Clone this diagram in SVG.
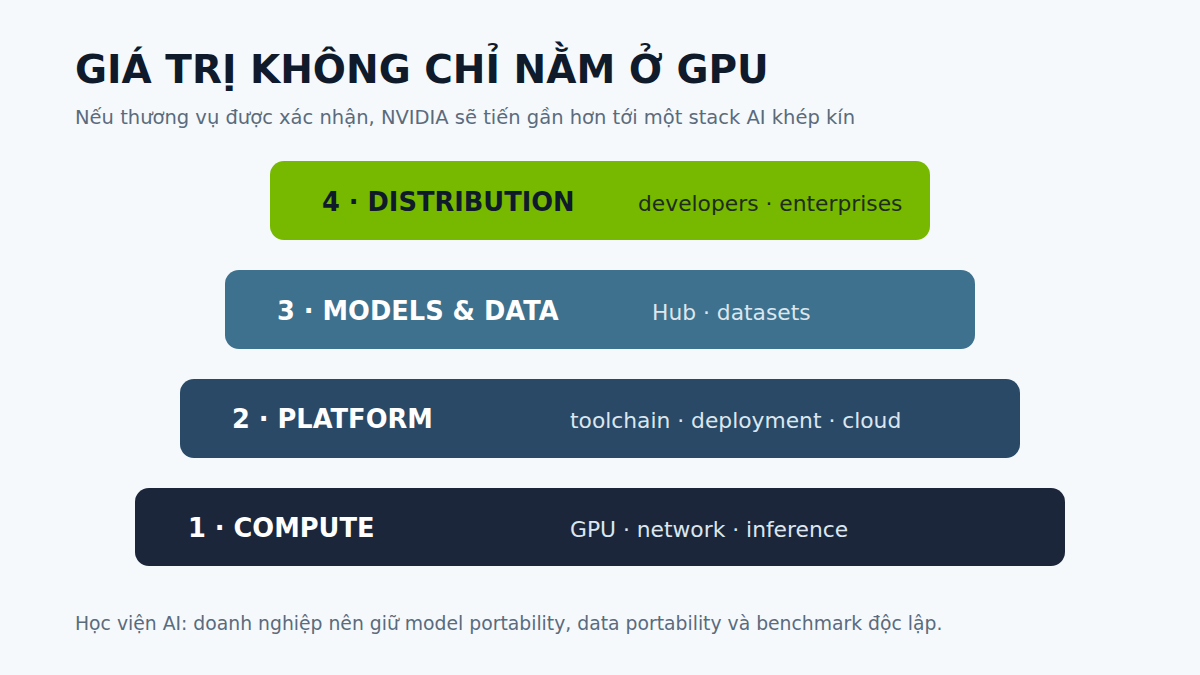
<svg xmlns="http://www.w3.org/2000/svg" width="1200" height="675" viewBox="0 0 1200 675">
<style>
text{font-family:"DejaVu Sans","Noto Sans",sans-serif}
.t{font-size:39px;font-weight:bold;fill:#0f1a2b}
.s{font-size:19.5px;fill:#5a6b7d}
.h{font-size:25.7px;font-weight:bold;fill:#ffffff}
.d{font-size:21.8px;fill:#dce6ee}
</style>
<rect width="1200" height="675" fill="#f5f9fc"/>
<text class="t" x="75" y="83">GIÁ TRỊ KHÔNG CHỈ NẰM Ở GPU</text>
<text class="s" x="75" y="124">Nếu thương vụ được xác nhận, NVIDIA sẽ tiến gần hơn tới một stack AI khép kín</text>
<g id="layer4"><rect x="270" y="161" width="660" height="79" rx="14" fill="#76b900"/>
<text class="h" x="322" y="211" style="fill:#0f1a2b">4 · DISTRIBUTION</text>
<text class="d" x="638" y="211" style="fill:#1d2d1a">developers · enterprises</text></g>
<g id="layer3"><rect x="225" y="270" width="750" height="79" rx="14" fill="#3d718d"/>
<text class="h" x="277" y="320">3 · MODELS &amp; DATA</text>
<text class="d" x="652" y="320">Hub · datasets</text></g>
<g id="layer2"><rect x="180" y="379" width="840" height="79" rx="14" fill="#294966"/>
<text class="h" x="232" y="428">2 · PLATFORM</text>
<text class="d" x="570" y="428">toolchain · deployment · cloud</text></g>
<g id="layer1"><rect x="135" y="488" width="930" height="78" rx="14" fill="#1c263b"/>
<text class="h" x="188" y="537">1 · COMPUTE</text>
<text class="d" x="570" y="537">GPU · network · inference</text></g>
<g id="connectors"/>
<text class="s" x="75" y="630" style="font-size:18.8px">Học viện AI: doanh nghiệp nên giữ model portability, data portability và benchmark độc lập.</text>
</svg>
